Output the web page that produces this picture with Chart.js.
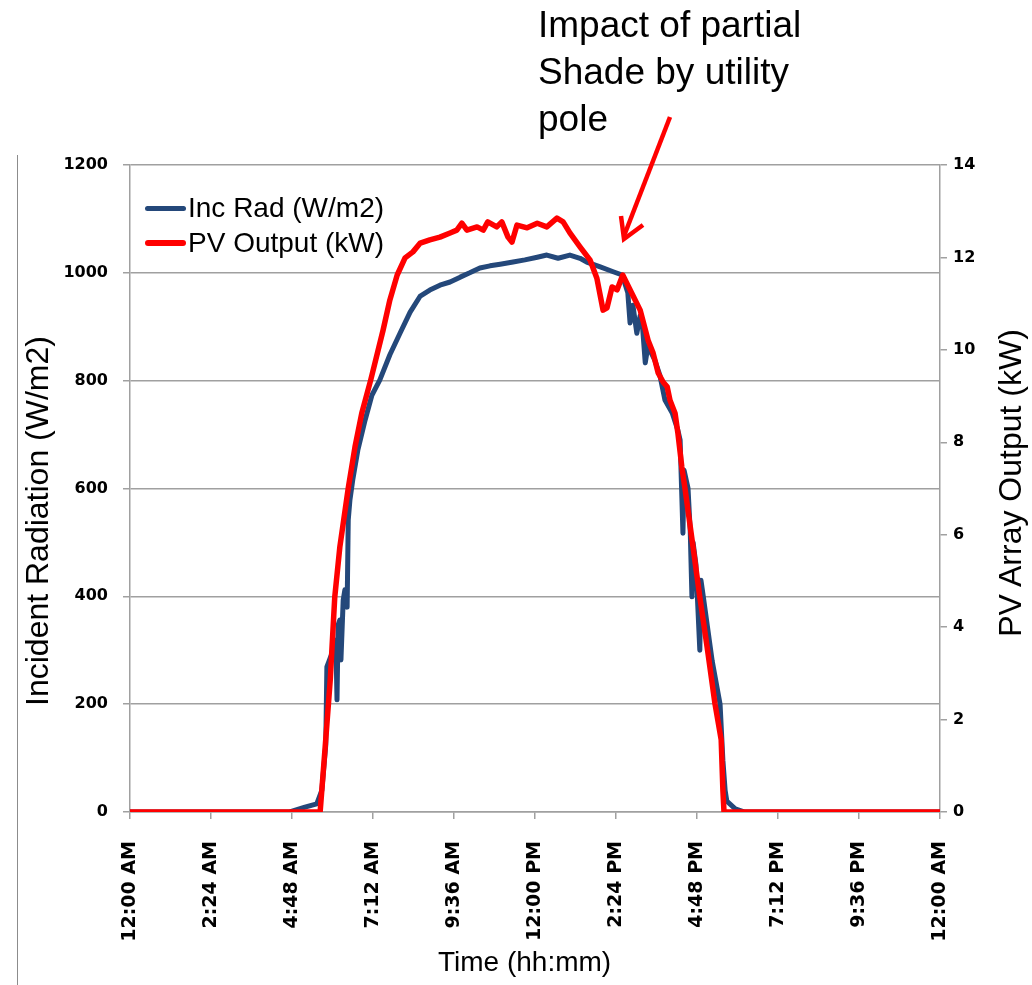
<!DOCTYPE html>
<html>
<head>
<meta charset="utf-8">
<title>Incident Radiation and PV Array Output</title>
<script src="https://cdn.jsdelivr.net/npm/chart.js@4.4.1/dist/chart.umd.min.js"></script>
<style>
    html, body { margin: 0; padding: 0; background: #fff; overflow: hidden; }
    #wrap { position: relative; width: 1032px; height: 985px; overflow: hidden; font-family: Arial, "Liberation Sans", sans-serif; }
    #pvChart { position: absolute; left: 0; top: 0; }
    .txt { position: absolute; white-space: nowrap; color: #000; }
    .note { left: 538px; top: 1px; font-size: 37px; line-height: 47px; }
    .legend-row { position: absolute; left: 145px; height: 28px; font-size: 28px; line-height: 28px; white-space: nowrap; }
    .legend-row .swatch { position: absolute; left: 0; width: 41px; border-radius: 3px; }
    .legend-row .label { position: absolute; left: 43px; top: 0; }
    .axis-title { font-size: 32px; line-height: 32px; transform: translate(-50%, -50%) rotate(-90deg); }
    #frameLine { position: absolute; left: 17px; top: 155px; width: 1px; height: 830px; background: #8c8c8c; }
    #arrow { position: absolute; left: 0; top: 0; }
</style>
</head>
<body>
<div id="wrap">
    <canvas id="pvChart" width="1032" height="985"></canvas>
    <div id="frameLine"></div>

    <div class="txt note">Impact of partial<br>Shade by utility<br>pole</div>
    <svg id="arrow" width="1032" height="985">
        <line x1="670" y1="117" x2="624" y2="236" stroke="#ff0000" stroke-width="4.5" />
        <polyline points="621,216 624,239 643,225" fill="none" stroke="#ff0000" stroke-width="4.5" />
    </svg>

    <div class="legend-row" style="top:194px;">
        <span class="swatch" style="top:12px;height:5px;background:#24487a;"></span>
        <span class="label">Inc Rad (W/m2)</span>
    </div>
    <div class="legend-row" style="top:229px;">
        <span class="swatch" style="top:11px;height:6px;background:#ff0000;"></span>
        <span class="label">PV Output (kW)</span>
    </div>

    <div class="txt axis-title" style="left:37px;top:521px;">Incident Radiation (W/m2)</div>
    <div class="txt axis-title" style="left:1010px;top:483px;">PV Array Output (kW)</div>
    <div class="txt" style="left:438px;top:948px;font-size:28px;line-height:28px;">Time (hh:mm)</div>
</div>

<script>
// minutos desde la medianoche
const radTimes = [0, 284, 311, 332, 341, 348, 350, 361, 366, 368, 370, 373, 375, 379, 382, 386, 388, 391, 396, 405,
    418, 430, 444, 462, 480, 498, 516, 533, 551, 569, 587, 604, 622, 640, 658, 681, 702, 724, 741, 761,
    782, 800, 812, 836, 859, 875, 885, 889, 894, 901, 907, 910, 916, 921, 924, 933, 942, 951, 964, 974,
    978, 983, 985, 990, 992, 996, 999, 1001, 1006, 1013, 1015, 1019, 1035, 1049, 1054, 1058, 1061, 1076, 1093, 1440];
const radValues = [0, 0, 9, 15, 40, 124, 269, 300, 319, 208, 347, 356, 282, 393, 412, 380, 542, 579, 616, 671,
    727, 773, 801, 848, 888, 927, 957, 968, 977, 983, 992, 1000, 1009, 1013, 1016, 1020, 1024, 1029, 1033, 1027,
    1033, 1027, 1020, 1011, 1002, 996, 963, 907, 940, 888, 921, 916, 833, 866, 857, 838, 810, 764, 740, 708,
    690, 517, 634, 610, 601, 520, 399, 500, 460, 300, 430, 401, 280, 200, 96, 40, 20, 6, 0, 0];

const pvTimes = [0, 338, 347, 356, 364, 373, 388, 400, 412, 428, 450, 462, 475, 489, 503, 516, 533, 551, 569, 581,
    590, 599, 617, 628, 636, 652, 661, 672, 679, 688, 706, 724, 741, 759, 770, 782, 800, 818, 830, 841,
    848, 857, 866, 876, 885, 898, 907, 921, 930, 939, 948, 955, 960, 969, 974, 981, 987, 1001, 1013, 1026,
    1040, 1051, 1054, 1056, 1440];
const pvValues = [0, 0, 1.41, 2.86, 4.65, 5.73, 7.01, 7.90, 8.63, 9.35, 10.43, 11.08, 11.62, 11.99, 12.12, 12.31, 12.38, 12.44, 12.53, 12.59,
    12.74, 12.59, 12.66, 12.59, 12.77, 12.66, 12.77, 12.44, 12.33, 12.70, 12.64, 12.74, 12.66, 12.85, 12.77, 12.53, 12.23, 11.94, 11.55, 10.86,
    10.91, 11.36, 11.30, 11.62, 11.40, 11.08, 10.86, 10.21, 9.93, 9.50, 9.30, 9.20, 8.91, 8.63, 8.20, 7.47, 6.97, 5.73, 4.65, 3.57,
    2.34, 1.56, 0.48, 0, 0];

const timeTickStep = 144;   // 2:24
const radMax = 1200;
const pvMax = 14;

const axisGrey = '#a0a0a0';

function formatTime(minutes) {
    const h = Math.floor(minutes / 60) % 24;
    const m = Math.round(minutes % 60);
    const suffix = h < 12 ? 'AM' : 'PM';
    const h12 = h % 12 === 0 ? 12 : h % 12;
    return `${h12}:${String(m).padStart(2, '0')} ${suffix}`;
}

function renderPvChart() {
    const ctx = document.getElementById('pvChart');

    const radPoints = radTimes.map((t, i) => ({ x: t, y: radValues[i] }));
    const pvPoints = pvTimes.map((t, i) => ({ x: t, y: pvValues[i] }));

    const tickFont = { family: '"DejaVu Sans", Verdana, sans-serif', weight: 'bold', size: 16 };

    new Chart(ctx, {
        type: 'line',
        data: {
            datasets: [
                {
                    label: 'Inc Rad (W/m2)',
                    data: radPoints,
                    yAxisID: 'y',
                    borderColor: '#24487a',
                    borderWidth: 5,
                    pointRadius: 0,
                    tension: 0,
                    borderJoinStyle: 'round',
                    order: 2
                },
                {
                    label: 'PV Output (kW)',
                    data: pvPoints,
                    yAxisID: 'y2',
                    borderColor: '#ff0000',
                    borderWidth: 5.5,
                    pointRadius: 0,
                    tension: 0,
                    borderJoinStyle: 'round',
                    order: 1
                }
            ]
        },
        options: {
            responsive: false,
            animation: false,
            layout: { padding: { top: 165, left: 0, right: 0, bottom: 0 } },
            plugins: {
                legend: { display: false },
                tooltip: { enabled: false }
            },
            scales: {
                x: {
                    type: 'linear',
                    position: 'bottom',
                    min: 0,
                    max: 1440,
                    afterFit: scale => { scale.height = 173; },
                    ticks: {
                        stepSize: timeTickStep,
                        minRotation: 90,
                        maxRotation: 90,
                        padding: 22,
                        color: '#000',
                        font: { family: tickFont.family, weight: 'bold', size: 19 },
                        callback: value => formatTime(value)
                    },
                    grid: { drawOnChartArea: false, drawTicks: true, tickLength: 7, color: axisGrey, lineWidth: 1.5 },
                    border: { display: true, color: axisGrey, width: 1.5 }
                },
                y: {
                    position: 'left',
                    min: 0,
                    max: radMax,
                    afterFit: scale => { scale.width = 130; },
                    ticks: { stepSize: 200, padding: 15, color: '#000', font: tickFont, callback: value => String(value) },
                    grid: { color: axisGrey, lineWidth: 1.5, tickLength: 7 },
                    border: { display: true, color: axisGrey, width: 1.5 }
                },
                y2: {
                    position: 'right',
                    min: 0,
                    max: pvMax,
                    afterFit: scale => { scale.width = 92; },
                    ticks: { stepSize: 2, padding: 6, color: '#000', font: tickFont, callback: value => String(value) },
                    grid: { drawOnChartArea: false, tickLength: 7, color: axisGrey, lineWidth: 1.5 },
                    border: { display: true, color: axisGrey, width: 1.5 }
                }
            }
        }
    });
}

renderPvChart();
</script>
</body>
</html>
